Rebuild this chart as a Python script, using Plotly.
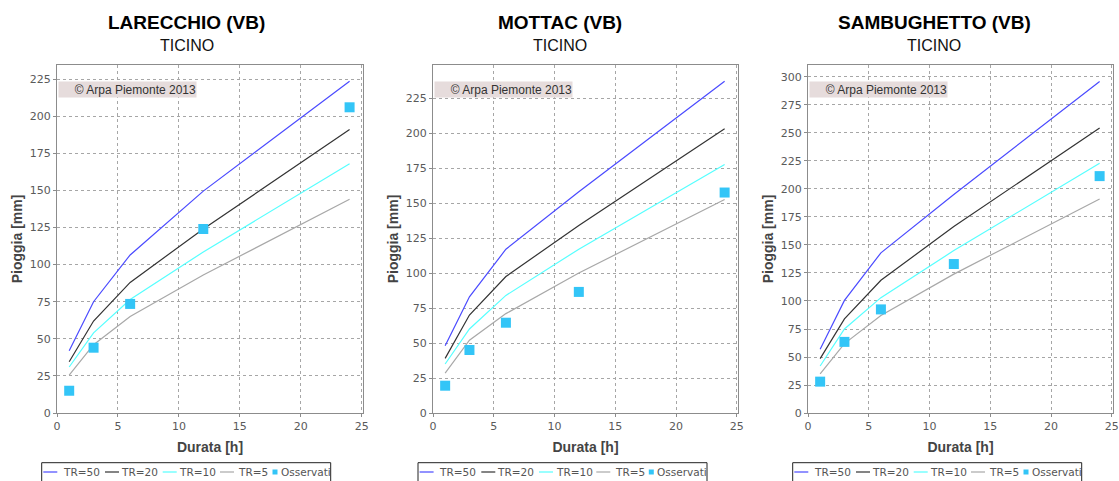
import plotly.graph_objects as go

# Durations (hours) at which the rainfall depths are evaluated
durations = [1, 3, 6, 12, 24]

stations = ["LARECCHIO (VB)", "MOTTAC (VB)", "SAMBUGHETTO (VB)"]
basin = "TICINO"

# Depth-duration curves (mm) for return periods 50, 20, 10, 5 years, plus observed maxima
larecchio_tr50 = [42, 75, 106.5, 149.5, 223.5]
larecchio_tr20 = [34.5, 62, 88, 124, 191]
larecchio_tr10 = [31, 54, 76.5, 108.5, 168]
larecchio_tr5 = [25.5, 46, 65, 93, 144]
larecchio_obs = [15, 44, 73.5, 124, 206]

mottac_tr50 = [48, 83, 117, 158, 237]
mottac_tr20 = [39, 70, 97.5, 134, 203]
mottac_tr10 = [35, 60, 84, 117, 177.5]
mottac_tr5 = [28.5, 52, 71, 100, 152.5]
mottac_obs = [19.5, 45, 64.5, 86.5, 157.5]

sambughetto_tr50 = [57, 100.5, 143, 195, 296]
sambughetto_tr20 = [48.5, 84, 118.5, 166.5, 254.5]
sambughetto_tr10 = [42, 75, 103, 145, 223]
sambughetto_tr5 = [35, 62, 87, 124, 191]
sambughetto_obs = [28, 63.5, 92.5, 133, 211.5]

x_ticks = [0, 5, 10, 15, 20, 25]
y_ranges = [[0, 234.5], [0, 248.6], [0, 310.7]]
y_dtick = [25, 25, 25]

series = [
    [larecchio_tr50, larecchio_tr20, larecchio_tr10, larecchio_tr5, larecchio_obs],
    [mottac_tr50, mottac_tr20, mottac_tr10, mottac_tr5, mottac_obs],
    [sambughetto_tr50, sambughetto_tr20, sambughetto_tr10, sambughetto_tr5, sambughetto_obs],
]
curve_names = ["TR=50", "TR=20", "TR=10", "TR=5"]
obs_name = "Osservati"
curve_colors = ["#4a4aff", "#333333", "#55ffff", "#a8a8a8"]
obs_color = "#33c5f7"

W, H = 1119, 481
x_domains = [[57 / W, 363 / W], [433 / W, 738 / W], [808 / W, 1113 / W]]
y_domain = [68 / H, 416 / H]
panel_centers = [186.5 / W, 559.5 / W, 934 / W]

# Legend strip under each chart (pixel offsets from the legend box's left edge)
legend_left_px = [41.7, 418, 792.7]
legend_top_px = 462.7
legend_width_px = 289
legend_row_px = 472
legend_key_px = [1.6, 63.3, 121, 178.3]
legend_key_len = 14
legend_text_px = [20, 78.3, 136.6, 195.6, 238.3]
legend_square_px = 233.3


def px(x):
    return x / W


def py(y):
    return 1 - y / H


fig = go.Figure()
layout = dict(
    width=W, height=H,
    margin=dict(l=0, r=0, t=0, b=0, autoexpand=False),
    paper_bgcolor="white",
    plot_bgcolor="white",
    showlegend=False,
    font=dict(family="DejaVu Sans", size=11, color="#555555"),
)

annotations = []
shapes = []
for i in range(3):
    sfx = "" if i == 0 else str(i + 1)
    xa, ya = "x" + sfx, "y" + sfx
    tr50, tr20, tr10, tr5, obs = series[i]
    for name, vals, color in zip(curve_names, [tr50, tr20, tr10, tr5], curve_colors):
        fig.add_trace(go.Scatter(
            x=durations, y=vals, mode="lines", name=name,
            line=dict(color=color, width=1.2),
            xaxis=xa, yaxis=ya,
        ))
    fig.add_trace(go.Scatter(
        x=durations, y=obs, mode="markers", name=obs_name,
        marker=dict(symbol="square", size=10, color=obs_color),
        xaxis=xa, yaxis=ya,
    ))

    axis_common = dict(
        showline=True, linecolor="#8c8c8c", linewidth=1, mirror=True,
        showgrid=True, gridcolor="#a6a6a6", griddash="dot", gridwidth=1,
        zeroline=False, ticks="outside", ticklen=3, tickcolor="#8c8c8c",
        tickfont=dict(family="DejaVu Sans", size=11, color="#5a5a5a"),
        automargin=False,
    )
    layout["xaxis" + sfx] = dict(
        axis_common, domain=x_domains[i], range=[0, 25.1],
        tickvals=x_ticks, anchor=ya,
        title=dict(text="<b>Durata [h]</b>", standoff=9,
                   font=dict(family="Liberation Sans", size=14, color="#444444")),
    )
    layout["yaxis" + sfx] = dict(
        axis_common, domain=y_domain, range=y_ranges[i],
        dtick=y_dtick[i], tick0=0, anchor=xa,
        title=dict(text="<b>Pioggia [mm]</b>", standoff=3,
                   font=dict(family="Liberation Sans", size=14, color="#444444")),
    )

    # Station name and basin above each chart
    annotations.append(dict(
        text="<b>" + stations[i] + "</b>", xref="paper", yref="paper",
        x=panel_centers[i], y=py(22.5), xanchor="center", yanchor="middle",
        showarrow=False, font=dict(family="Liberation Sans", size=19, color="#000000"),
    ))
    annotations.append(dict(
        text=basin, xref="paper", yref="paper",
        x=panel_centers[i], y=py(45.5), xanchor="center", yanchor="middle",
        showarrow=False, font=dict(family="Liberation Sans", size=16, color="#111111"),
    ))
    # Copyright label inside the plot area
    annotations.append(dict(
        text="© Arpa Piemonte 2013", xref=xa + " domain", yref=ya + " domain",
        x=0.003, y=(413 - 89.5) / 348, xanchor="left", yanchor="middle",
        showarrow=False, bgcolor="#e6dcdc", width=137, height=15, align="right",
        borderpad=0, font=dict(family="Liberation Sans", size=12, color="#333333"),
    ))

    # Legend box with line keys, observed-point key and labels
    lx = legend_left_px[i]
    shapes.append(dict(
        type="rect", xref="paper", yref="paper",
        x0=px(lx), x1=px(lx + legend_width_px), y0=py(legend_top_px), y1=py(legend_top_px + 24),
        line=dict(color="#222222", width=1), fillcolor="white", layer="above",
    ))
    for k, color in enumerate(curve_colors):
        x0 = lx + legend_key_px[k]
        shapes.append(dict(
            type="line", xref="paper", yref="paper",
            x0=px(x0), x1=px(x0 + legend_key_len), y0=py(legend_row_px), y1=py(legend_row_px),
            line=dict(color=color, width=1.2), layer="above",
        ))
    sq = lx + legend_square_px
    shapes.append(dict(
        type="rect", xref="paper", yref="paper",
        x0=px(sq - 2.5), x1=px(sq + 2.5), y0=py(legend_row_px - 2.5), y1=py(legend_row_px + 2.5),
        line=dict(width=0), fillcolor=obs_color, layer="above",
    ))
    for k, label in enumerate(curve_names + [obs_name]):
        annotations.append(dict(
            text=label, xref="paper", yref="paper",
            x=px(lx + legend_text_px[k]), y=py(legend_row_px), xanchor="left", yanchor="middle",
            showarrow=False, borderpad=0,
            font=dict(family="DejaVu Sans", size=10.5, color="#555555"),
        ))

layout["annotations"] = annotations
layout["shapes"] = shapes
fig.update_layout(**layout)
fig.write_html("out.html")
